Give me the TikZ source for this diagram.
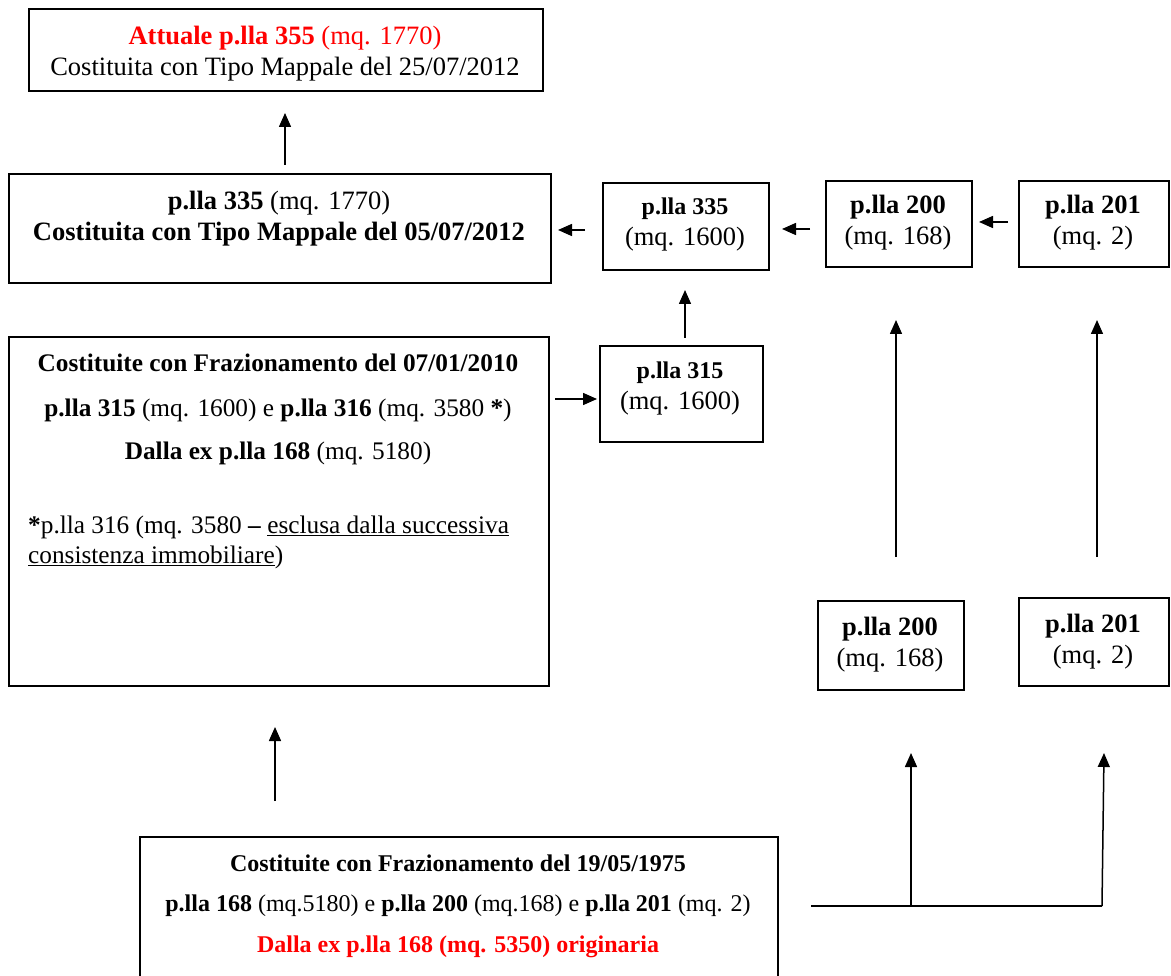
\documentclass[tikz,border=0pt]{standalone}
\usepackage{fontspec}
\setmainfont{Liberation Serif}
\usetikzlibrary{arrows.meta,calc}
\definecolor{redt}{RGB}{255,0,0}
\begin{document}
\begin{tikzpicture}[x=1pt,y=-1pt,
 box/.style={draw,line width=1.6pt,inner sep=0pt,anchor=north west},
 arr/.style={line width=1.5pt,-{Triangle[width=12pt,length=14pt]}},
 ln/.style={line width=1.5pt},
 txt/.style={align=center,inner sep=0pt,font=\fontsize{26.5}{31}\selectfont},
 txtm/.style={align=center,inner sep=0pt,font=\fontsize{25.3}{30}\selectfont},
 txts/.style={align=center,inner sep=0pt,font=\fontsize{24}{29}\selectfont}]
\clip (0,0) rectangle (1171,976);
% boxes
\node[box,minimum width=514pt,minimum height=82pt] (b355) at (28,8) {};
\node[box,minimum width=542pt,minimum height=109pt] (b335) at (8,173) {};
\node[box,minimum width=166pt,minimum height=87pt] (s335) at (602,182) {};
\node[box,minimum width=146pt,minimum height=86pt] (t200) at (825,180) {};
\node[box,minimum width=150pt,minimum height=86pt] (t201) at (1018,180) {};
\node[box,minimum width=540pt,minimum height=349pt] (f2010) at (8,336) {};
\node[box,minimum width=163pt,minimum height=96pt] (s315) at (599,345) {};
\node[box,minimum width=146pt,minimum height=89pt] (u200) at (817,600) {};
\node[box,minimum width=150pt,minimum height=88pt] (u201) at (1018,597) {};
\node[box,minimum width=638pt,minimum height=170pt] (f1975) at (139,836) {};
% texts
\node[txt] (x355) at (285,54) {\textcolor{redt}{\textbf{Attuale p.lla 355} (mq. 1770)}\\Costituita con Tipo Mappale del 25/07/2012};
\node[txt] (x335) at (279,219) {\textbf{p.lla 335} (mq. 1770)\\\textbf{Costituita con Tipo Mappale del 05/07/2012}};
\node[txt] (xs335) at (685,224) {{\fontsize{24}{29}\selectfont\textbf{p.lla 335}}\\(mq. 1600)};
\node[txt] (xt200) at (898,223) {\textbf{p.lla 200}\\(mq. 168)};
\node[txt] (xt201) at (1093,223) {\textbf{p.lla 201}\\(mq. 2)};
\node[txt] (xs315) at (680,388) {{\fontsize{24}{29}\selectfont\textbf{p.lla 315}}\\(mq. 1600)};
\node[txt] (xu200) at (890,645) {\textbf{p.lla 200}\\(mq. 168)};
\node[txt] (xu201) at (1093,642) {\textbf{p.lla 201}\\(mq. 2)};
\node[txtm] (f1) at (278,363) {\textbf{Costituite con Frazionamento del 07/01/2010}};
\node[txtm] (f2) at (278,410) {\textbf{p.lla 315} (mq. 1600) e \textbf{p.lla 316} (mq. 3580 \textbf{*})};
\node[txtm] (f3) at (278,453) {\textbf{Dalla ex p.lla 168} (mq. 5180)};
\node[txtm,align=left,anchor=west] (f4) at (28,542) {\textbf{*}p.lla 316 (mq. 3580 \textbf{–} \underline{esclusa dalla successiva}\\\underline{consistenza immobiliare})};
\node[txts] (g1) at (458,863) {\textbf{Costituite con Frazionamento del 19/05/1975}};
\node[txts] (g2) at (458,906) {\textbf{p.lla 168} (mq.5180) e \textbf{p.lla 200} (mq.168) e \textbf{p.lla 201} (mq. 2)};
\node[txts] (g3) at (458,947) {\textcolor{redt}{\textbf{Dalla ex p.lla 168 (mq. 5350) originaria}}};
% connector end points
\coordinate (a1s) at (285,165); \coordinate (a1e) at (285,113);
\coordinate (a2s) at (585,230); \coordinate (a2e) at (558,230);
\coordinate (a3s) at (810,229); \coordinate (a3e) at (782,229);
\coordinate (a4s) at (1008,222); \coordinate (a4e) at (979,222);
\coordinate (a5s) at (555,399); \coordinate (a5e) at (597,399);
\coordinate (a6s) at (685,338); \coordinate (a6e) at (685,290);
\coordinate (a7s) at (896,557); \coordinate (a7e) at (896,320);
\coordinate (a8s) at (1097,557); \coordinate (a8e) at (1097,320);
\coordinate (a9s) at (275,801); \coordinate (a9e) at (275,727);
\coordinate (hl) at (811,906); \coordinate (hr) at (1102,906);
\coordinate (hm) at (911,906);
\coordinate (a10e) at (911,753); \coordinate (a11e) at (1104,753);
% connectors
\draw[arr] (a1s) -- (a1e);
\draw[arr] (a2s) -- (a2e);
\draw[arr] (a3s) -- (a3e);
\draw[arr] (a4s) -- (a4e);
\draw[arr] (a5s) -- (a5e);
\draw[arr] (a6s) -- (a6e);
\draw[arr] (a7s) -- (a7e);
\draw[arr] (a8s) -- (a8e);
\draw[arr] (a9s) -- (a9e);
\draw[ln] (hl) -- (hr);
\draw[arr] (hm) -- (a10e);
\draw[arr] (hr) -- (a11e);
\end{tikzpicture}
\end{document}
